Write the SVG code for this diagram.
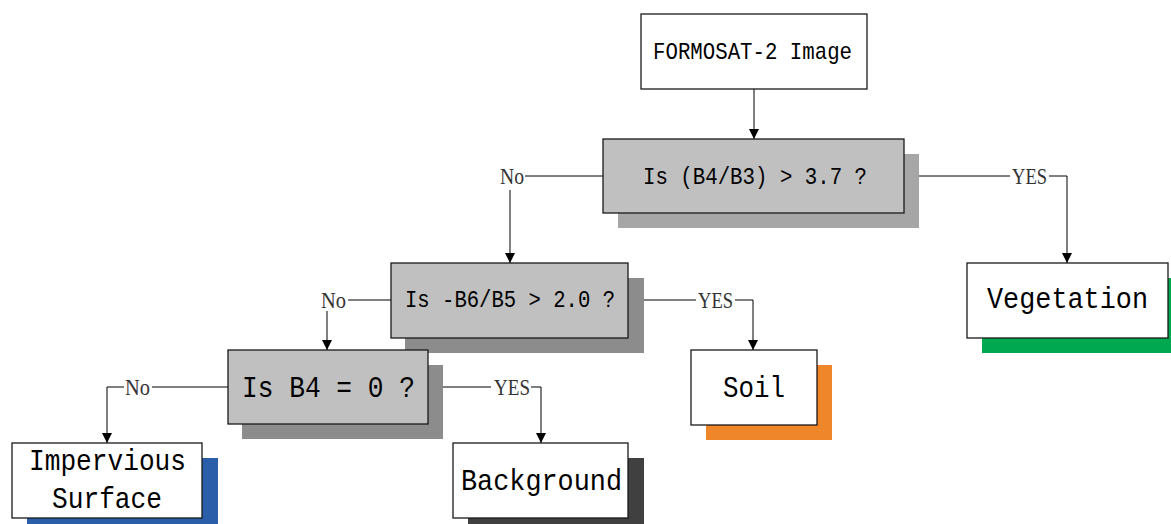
<svg xmlns="http://www.w3.org/2000/svg" width="1171" height="524" viewBox="0 0 1171 524">
<style>
.box{stroke:#1a1a1a;stroke-width:1.3}
.q{fill:#c0c0c0}
.w{fill:#ffffff}
.t{font-family:"Liberation Mono","DejaVu Sans Mono",monospace;fill:#000}
.s{font-size:24px}
.l{font-size:29px}
.lab{font-family:"Liberation Serif","DejaVu Serif",serif;font-size:24px;fill:#333}
.c{fill:none;stroke:#000;stroke-width:1}
</style>
<defs>
<marker id="ar" markerUnits="userSpaceOnUse" markerWidth="10" markerHeight="12" refX="10" refY="5" orient="auto" viewBox="0 0 10 10">
<path d="M0,0 L10,5 L0,10 z" fill="#000"/>
</marker>
</defs>
<g id="connectors">
<path class="c" d="M754,89 V139" marker-end="url(#ar)"/>
<path class="c" d="M603,176 H525"/>
<path class="c" d="M510,190 V263" marker-end="url(#ar)"/>
<path class="c" d="M904,176 H1010"/>
<path class="c" d="M1049,176 H1067 V263" marker-end="url(#ar)"/>
<path class="c" d="M391,300 H348"/>
<path class="c" d="M327,311 V350" marker-end="url(#ar)"/>
<path class="c" d="M628,300 H696"/>
<path class="c" d="M735,300 H753 V350" marker-end="url(#ar)"/>
<path class="c" d="M228,387 H152"/>
<path class="c" d="M124,387 H107 V443" marker-end="url(#ar)"/>
<path class="c" d="M428,387 H491"/>
<path class="c" d="M531,387 H541 V443" marker-end="url(#ar)"/>
<text class="lab" x="500" y="184" textLength="24" lengthAdjust="spacingAndGlyphs">No</text>
<text class="lab" x="1012" y="184" textLength="35" lengthAdjust="spacingAndGlyphs">YES</text>
<text class="lab" x="321" y="308" textLength="25" lengthAdjust="spacingAndGlyphs">No</text>
<text class="lab" x="698" y="308" textLength="35" lengthAdjust="spacingAndGlyphs">YES</text>
<text class="lab" x="125" y="395" textLength="25" lengthAdjust="spacingAndGlyphs">No</text>
<text class="lab" x="494" y="395" textLength="36" lengthAdjust="spacingAndGlyphs">YES</text>
</g>
<g id="n-image">
<rect class="box w" x="641" y="14" width="226" height="75"/>
<text class="t s" x="653" y="59" textLength="199" lengthAdjust="spacingAndGlyphs">FORMOSAT-2 Image</text>
</g>
<g id="n-q1">
<rect x="618" y="154" width="301" height="74" fill="#a6a6a6"/>
<rect class="box q" x="603" y="139" width="301" height="74"/>
<text class="t s" x="643" y="184" textLength="224" lengthAdjust="spacingAndGlyphs">Is (B4/B3) &gt; 3.7 ?</text>
</g>
<g id="n-q2">
<rect x="405" y="278" width="239" height="75" fill="#8c8c8c"/>
<rect class="box q" x="391" y="263" width="237" height="75"/>
<text class="t s" x="405" y="307" textLength="210" lengthAdjust="spacingAndGlyphs">Is -B6/B5 &gt; 2.0 ?</text>
</g>
<g id="n-q3">
<rect x="242" y="365" width="201" height="74" fill="#8c8c8c"/>
<rect class="box q" x="228" y="350" width="200" height="74"/>
<text class="t l" x="242" y="397" textLength="173" lengthAdjust="spacingAndGlyphs">Is B4 = 0 ?</text>
</g>
<g id="n-vegetation">
<rect x="982" y="278" width="189" height="75" fill="#00a84f"/>
<rect class="box w" x="967" y="263" width="201" height="75"/>
<text class="t l" x="987" y="308" textLength="161" lengthAdjust="spacingAndGlyphs">Vegetation</text>
</g>
<g id="n-soil">
<rect x="706" y="365" width="126" height="75" fill="#f0862a"/>
<rect class="box w" x="691" y="350" width="126" height="75"/>
<text class="t l" x="723" y="397" textLength="62" lengthAdjust="spacingAndGlyphs">Soil</text>
</g>
<g id="n-background">
<rect x="468" y="458" width="176" height="66" fill="#404040"/>
<rect class="box w" x="453" y="443" width="175" height="75"/>
<text class="t l" x="461" y="490" textLength="161" lengthAdjust="spacingAndGlyphs">Background</text>
</g>
<g id="n-impervious">
<rect x="27" y="458" width="191" height="66" fill="#2a5ea8"/>
<rect class="box w" x="12" y="443" width="190" height="75"/>
<text class="t l" x="29" y="470" textLength="157" lengthAdjust="spacingAndGlyphs">Impervious</text>
<text class="t l" x="52" y="508" textLength="110" lengthAdjust="spacingAndGlyphs">Surface</text>
</g>
</svg>
